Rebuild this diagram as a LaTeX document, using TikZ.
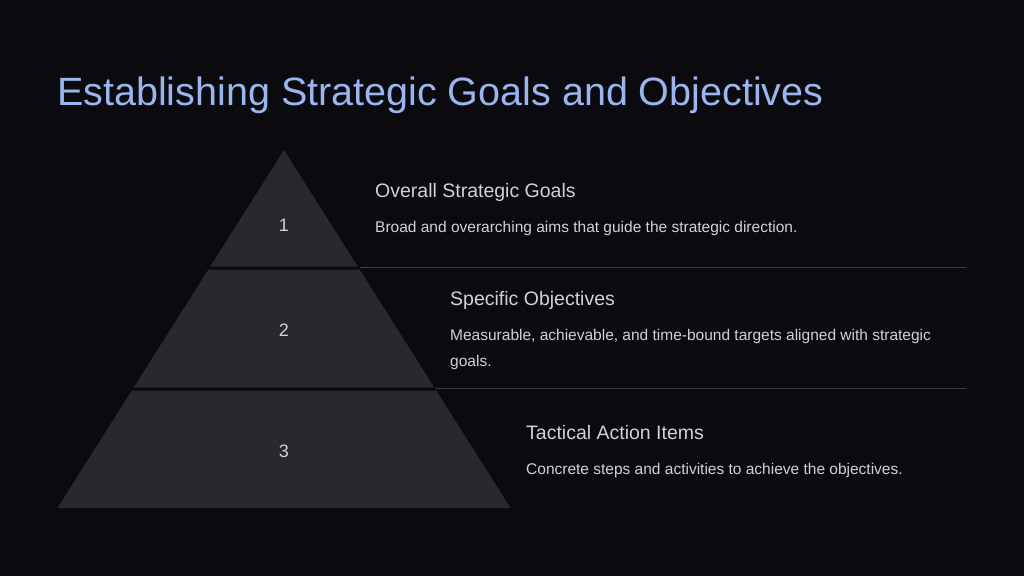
\documentclass[tikz,border=0pt]{standalone}
\usepackage{fontspec}
\setmainfont{Liberation Sans}
\usepackage{tikz}
\usetikzlibrary{positioning}
\definecolor{bgdark}{HTML}{0B0A0F}
\definecolor{bandgray}{HTML}{29282E}
\definecolor{txtgray}{HTML}{D2D2D6}
\definecolor{titleblue}{HTML}{9BB5EE}
\definecolor{rulegray}{HTML}{3C3C42}
\tikzstyle{band} = [fill=bandgray, draw=none]
\tikzstyle{num} = [text=txtgray, font=\fontsize{18}{20}\selectfont, inner sep=0pt]
\tikzstyle{heading} = [text=txtgray, font=\fontsize{19.5}{22}\selectfont, anchor=base west, inner sep=0pt]
\tikzstyle{desc} = [text=txtgray, font=\fontsize{15.5}{26.5}\selectfont, anchor=base west, inner sep=0pt, align=left]
\tikzstyle{sep} = [draw=rulegray, line width=1pt]

\begin{document}
\begin{tikzpicture}[x=1pt, y=-1pt]
 % background
    \fill [bgdark] (0,0) rectangle (1024,576);
    \useasboundingbox (0,0) rectangle (1024,576);
    \node [text=titleblue, font=\fontsize{39.5}{44}\selectfont, anchor=base west, inner sep=0pt, name=title] at (57,105) {Establishing Strategic Goals and Objectives};
 % pyramid
    \fill [band] (284,150) -- (357.7,266.5) -- (210.3,266.5) -- cycle;
    \fill [band] (208.4,269.5) -- (359.6,269.5) -- (434.3,387.5) -- (133.7,387.5) -- cycle;
    \fill [band] (131.8,390.5) -- (436.2,390.5) -- (510.5,508) -- (57.5,508) -- cycle;
    \node [num, name=one] at (284,225) {1};
    \node [num, name=two] at (284,330) {2};
    \node [num, name=three] at (284,451) {3};
 % texts
    \node [heading, name=goals] at (375,197) {Overall Strategic Goals};
    \node [desc, name=goalsdesc] at ([yshift=-35pt]goals.base west) {Broad and overarching aims that guide the strategic direction.};
    \node [heading, name=objectives] at (450,305.5) {Specific Objectives};
    \node [desc, name=objectivesdesc] at ([yshift=-61pt]objectives.base west) {Measurable, achievable, and time-bound targets aligned with strategic\\goals.};
    \node [heading, name=tactical] at (526,439) {Tactical Action Items};
    \node [desc, name=tacticaldesc] at ([yshift=-35pt]tactical.base west) {Concrete steps and activities to achieve the objectives.};
 % separators
    \coordinate (sepa1) at (360,267);
    \coordinate (sepa2) at (966,267);
    \coordinate (sepb1) at (435,388);
    \coordinate (sepb2) at (966,388);
    \draw [sep] (sepa1) -- (sepa2);
    \draw [sep] (sepb1) -- (sepb2);
\end{tikzpicture}
\end{document}
